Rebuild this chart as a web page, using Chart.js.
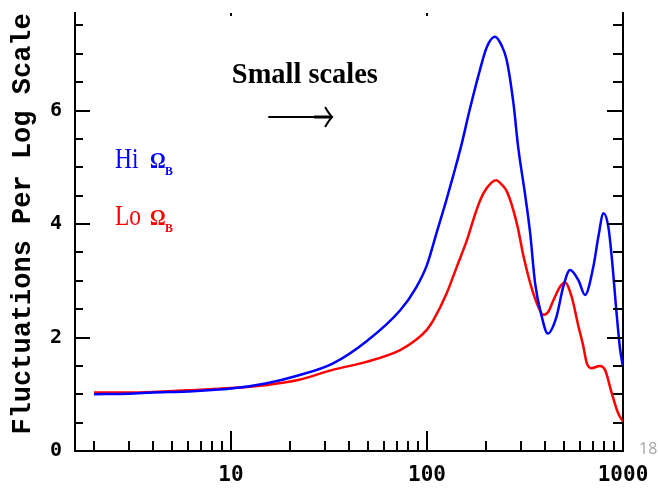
<!DOCTYPE html>
<html>
<head>
<meta charset="utf-8">
<script src="https://cdn.jsdelivr.net/npm/chart.js@4.4.0/dist/chart.umd.min.js"></script>
<style>
html, body { margin: 0; padding: 0; background: #fff; }
#wrap { position: relative; width: 658px; height: 491px; }
canvas { display: block; }
#slideNo { position: absolute; left: 639px; top: 437px; font: 16px "Open Sans", sans-serif; color: #a6a6a6; }
</style>
</head>
<body>
<div id="wrap">
<canvas id="mycanvas" width="658" height="491"></canvas>
<div id="slideNo">18</div>
</div>
<script>
// multipole l and amplitude
var hiK   = [2, 3, 4, 6, 10, 15, 22, 33, 49, 73, 88, 100, 112, 125, 136, 150, 165, 186, 202, 222, 240, 255, 276, 292, 316, 336, 356, 385, 413, 458, 496, 537, 592, 640, 706, 749, 795, 842, 876, 929, 966, 1000];
var hiAmp = [1.00, 1.01, 1.03, 1.05, 1.10, 1.19, 1.33, 1.54, 1.93, 2.48, 2.88, 3.28, 3.85, 4.40, 4.85, 5.40, 6.01, 6.71, 7.12, 7.30, 7.15, 6.89, 6.13, 5.35, 4.54, 3.84, 2.96, 2.37, 2.07, 2.37, 2.90, 3.19, 3.01, 2.75, 3.25, 3.78, 4.19, 3.95, 3.42, 2.40, 1.80, 1.48];
var loK   = [2, 3, 4, 6, 10, 15, 22, 33, 49, 73, 88, 100, 108, 126, 142, 160, 179, 194, 212, 225, 240, 255, 270, 290, 310, 342, 370, 392, 415, 442, 478, 506, 547, 592, 628, 653, 692, 763, 810, 876, 946, 1000];
var loAmp = [1.03, 1.03, 1.04, 1.07, 1.11, 1.16, 1.25, 1.43, 1.57, 1.78, 1.96, 2.14, 2.31, 2.78, 3.25, 3.72, 4.25, 4.54, 4.72, 4.77, 4.70, 4.58, 4.35, 3.95, 3.45, 2.87, 2.54, 2.40, 2.45, 2.66, 2.90, 2.97, 2.72, 2.20, 1.84, 1.55, 1.46, 1.50, 1.43, 1.02, 0.66, 0.52];

var xTicks = [10, 100, 1000];
var xMinor = [2, 3, 4, 5, 6, 7, 8, 9, 20, 30, 40, 50, 60, 70, 80, 90, 200, 300, 400, 500, 600, 700, 800, 900];
var yTicks = [0, 2, 4, 6];
var yMinor = [0.5, 1, 1.5, 2.5, 3, 3.5, 4.5, 5, 5.5, 6.5, 7, 7.5];

function pts(k, a) {
  var out = [];
  for (var i = 0; i < k.length; i++) out.push({x: k[i], y: a[i]});
  return out;
}

function squeeze(c, txt, x, y, font, color, sx) {
  c.save();
  c.font = font;
  c.fillStyle = color;
  c.textBaseline = 'alphabetic';
  c.translate(x, y);
  c.scale(sx, 1);
  c.fillText(txt, 0, 0);
  c.restore();
}

function noPad(s) {
  s.paddingTop = 0; s.paddingBottom = 0; s.paddingLeft = 0; s.paddingRight = 0;
}

// inward tick marks on the axes
var tickMarks = {
  id: 'tickMarks',
  afterDraw: function(chart) {
    var c = chart.ctx, xs = chart.scales.x, ys = chart.scales.y, a = chart.chartArea;
    c.save();
    c.strokeStyle = '#000';
    c.lineWidth = 2;
    c.beginPath();
    xMinor.forEach(function(v) {
      var px = Math.round(xs.getPixelForValue(v));
      c.moveTo(px, a.bottom); c.lineTo(px, a.bottom - 10);
    });
    xTicks.forEach(function(v) {
      var px = Math.round(xs.getPixelForValue(v));
      c.moveTo(px, a.bottom); c.lineTo(px, a.bottom - 20);
      c.moveTo(px, a.top); c.lineTo(px, a.top + 3);
    });
    yMinor.forEach(function(v) {
      var py = Math.round(ys.getPixelForValue(v));
      c.moveTo(a.left, py); c.lineTo(a.left + 8, py);
      c.moveTo(a.right, py); c.lineTo(a.right - 10, py);
    });
    yTicks.forEach(function(v) {
      var py = Math.round(ys.getPixelForValue(v));
      c.moveTo(a.left, py); c.lineTo(a.left + 15, py);
      c.moveTo(a.right, py); c.lineTo(a.right - 16, py);
    });
    c.stroke();
    c.restore();
  }
};

// text labels and the arrow, placed in data units
var notes = {
  id: 'notes',
  afterDraw: function(chart) {
    var c = chart.ctx, xs = chart.scales.x, ys = chart.scales.y;
    var X = function(v) { return xs.getPixelForValue(v); };
    var Y = function(v) { return ys.getPixelForValue(v); };

    c.save();
    c.font = 'bold 30px "Liberation Serif"';
    var w = c.measureText('Small scales').width;
    c.restore();
    squeeze(c, 'Small scales', X(10.1), Y(6.48), 'bold 30px "Liberation Serif"', '#000', 146 / w);

    // arrow
    var x0 = X(15.5), x1 = X(32.8), ya = Math.round(Y(5.89));
    c.save();
    c.strokeStyle = '#000';
    c.lineWidth = 2;
    c.beginPath();
    c.moveTo(x0, ya); c.lineTo(x1, ya);
    c.moveTo(x1 - 7, ya - 10); c.quadraticCurveTo(x1 - 3, ya - 3, x1, ya);
    c.quadraticCurveTo(x1 - 3, ya + 3, x1 - 7, ya + 10);
    c.stroke();
    c.lineWidth = 3;
    c.beginPath();
    c.moveTo(x1 - 18, ya); c.lineTo(x1, ya);
    c.stroke();
    c.restore();

    var lx = X(2.56);
    [['Hi', '#0000ff', 4.99], ['Lo', '#ff0000', 3.98]].forEach(function(l) {
      var by = Y(l[2]);
      squeeze(c, l[0], lx, by, '30px "Liberation Serif"', l[1], 0.78);
      squeeze(c, '\u03a9', lx + 35, by, 'bold 23px "Liberation Serif"', l[1], 0.85);
      squeeze(c, 'B', lx + 50, by + 7, 'bold 13px "Liberation Serif"', l[1], 0.9);
    });
  }
};

var ctx = document.getElementById('mycanvas');
var chart = new Chart(ctx, {
  type: 'line',
  data: {
    datasets: [
      {
        label: 'Hi',
        data: pts(hiK, hiAmp),
        borderColor: '#0000ff',
        borderWidth: 2.5,
        pointRadius: 0,
        fill: false,
        cubicInterpolationMode: 'monotone'
      },
      {
        label: 'Lo',
        data: pts(loK, loAmp),
        borderColor: '#ff0000',
        borderWidth: 2.5,
        pointRadius: 0,
        fill: false,
        cubicInterpolationMode: 'monotone'
      }
    ]
  },
  options: {
    responsive: false,
    animation: false,
    devicePixelRatio: 1,
    layout: { padding: { top: 13, right: 35, left: 0, bottom: 0 } },
    plugins: { legend: { display: false }, tooltip: { enabled: false } },
    scales: {
      x: {
        type: 'logarithmic',
        min: 1.6,
        max: 1000,
        afterBuildTicks: function(s) { s.ticks = xTicks.map(function(v) { return {value: v}; }); },
        afterFit: function(s) { s.height = 40; noPad(s); },
        grid: { display: false, drawTicks: false },
        border: { display: true, color: '#000', width: 2 },
        ticks: {
          autoSkip: false, maxRotation: 0, color: '#000', padding: 12,
          font: { family: '"DejaVu Sans Mono"', weight: 'bold', size: 21 },
          callback: function(v) { return String(v); }
        }
      },
      y: {
        min: 0,
        max: 7.72,
        afterBuildTicks: function(s) { s.ticks = yTicks.map(function(v) { return {value: v}; }); },
        afterFit: function(s) { s.width = 75; noPad(s); },
        grid: { display: false, drawTicks: false },
        border: { display: true, color: '#000', width: 2 },
        ticks: {
          color: '#000', padding: 13,
          font: { family: '"DejaVu Sans Mono"', weight: 'bold', size: 20 }
        },
        title: {
          display: true,
          text: ' Fluctuations Per Log Scale',
          color: '#000',
          font: { family: '"Liberation Mono"', weight: 'bold', size: 27, lineHeight: 1 },
          padding: { top: 10, bottom: 0 }
        }
      },
      yR: {
        position: 'right',
        min: 0,
        max: 7.72,
        afterFit: function(s) { s.width = 0; noPad(s); },
        grid: { display: false, drawTicks: false },
        border: { display: true, color: '#000', width: 2 },
        ticks: { display: false }
      }
    }
  },
  plugins: [tickMarks, notes]
});
</script>
</body>
</html>
